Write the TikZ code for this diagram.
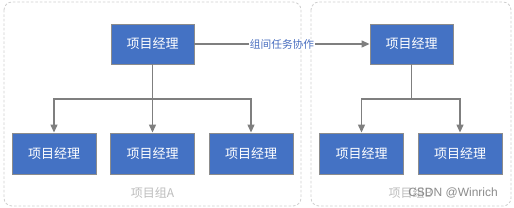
\documentclass[tikz,border=0pt]{standalone}
\usepackage{fontspec}
\setmainfont{Noto Sans CJK SC}
\newfontfamily\wmfont{Liberation Sans}
\usetikzlibrary{arrows.meta,calc}
\definecolor{boxblue}{HTML}{4472C4}
\definecolor{boxedge}{HTML}{8C8C8C}
\definecolor{linegray}{HTML}{7F7F7F}
\definecolor{groupedge}{HTML}{CFCFCF}
\definecolor{grouptext}{HTML}{BDBDBD}
\definecolor{labelblue}{HTML}{4A6FC0}
\begin{document}
\begin{tikzpicture}[x=1pt,y=-1pt,
  pm/.style={draw=boxedge,line width=0.9pt,fill=boxblue,text=white,minimum width=83pt,minimum height=40pt,inner sep=0pt,font=\fontsize{13}{13}\selectfont},
  grp/.style={draw=groupedge,line width=0.8pt,dash pattern=on 2.5pt off 2pt,rounded corners=8pt},
  arr/.style={draw=linegray,line width=1.3pt,-{Triangle[length=8pt,width=7pt]}},
  ln/.style={draw=linegray,line width=1.3pt},
  glabel/.style={text=grouptext,font=\fontsize{12}{12}\selectfont,inner sep=0pt}
]
\useasboundingbox (0,0) rectangle (514,208);
\fill[white] (0,0) rectangle (514,208);
% group frames
\draw[grp] (4,2) rectangle (301,206);
\draw[grp] (311,2) rectangle (511,206);
% nodes
\node[pm] (tl) at (152.5,44) {项目经理};
\node[pm] (tr) at (411.5,44) {项目经理};
\node[pm,minimum height=41pt,minimum width=84pt] (b1) at (54,153.5) {项目经理};
\node[pm,minimum height=41pt,minimum width=84pt] (b2) at (152.5,153.5) {项目经理};
\node[pm,minimum height=41pt,minimum width=84pt] (b3) at (251,153.5) {项目经理};
\node[pm,minimum height=41pt,minimum width=84pt] (b4) at (361.5,153.5) {项目经理};
\node[pm,minimum height=41pt,minimum width=84pt] (b5) at (460,153.5) {项目经理};
\coordinate (busy) at (0,99);
% left group connectors
\draw[arr] (tl.south) -- (b2.north);
\draw[arr] (tl.south |- busy) -| (b1.north);
\draw[arr] (tl.south |- busy) -| (b3.north);
% right group connectors
\draw[ln] (tr.south) -- (tr.south |- busy);
\draw[arr] (tr.south |- busy) -| (b4.north);
\draw[arr] (tr.south |- busy) -| (b5.north);
% cross-group arrow
\draw[arr] (tl.east) -- node[fill=white,inner sep=0.5pt,text=labelblue,font=\fontsize{10.7}{10.7}\selectfont] (lab) {组间任务协作} (tr.east -| tr.west);
% group labels
\node[glabel] (ga) at (152.5,193) {项目组A};
\node[glabel,anchor=west] (gb) at (388.5,193) {项目组B};
\node[text=gray!90,font=\wmfont\fontsize{12}{12}\selectfont,inner sep=0pt,anchor=east] (wm) at (498,193) {CSDN @Winrich};
\end{tikzpicture}
\end{document}
